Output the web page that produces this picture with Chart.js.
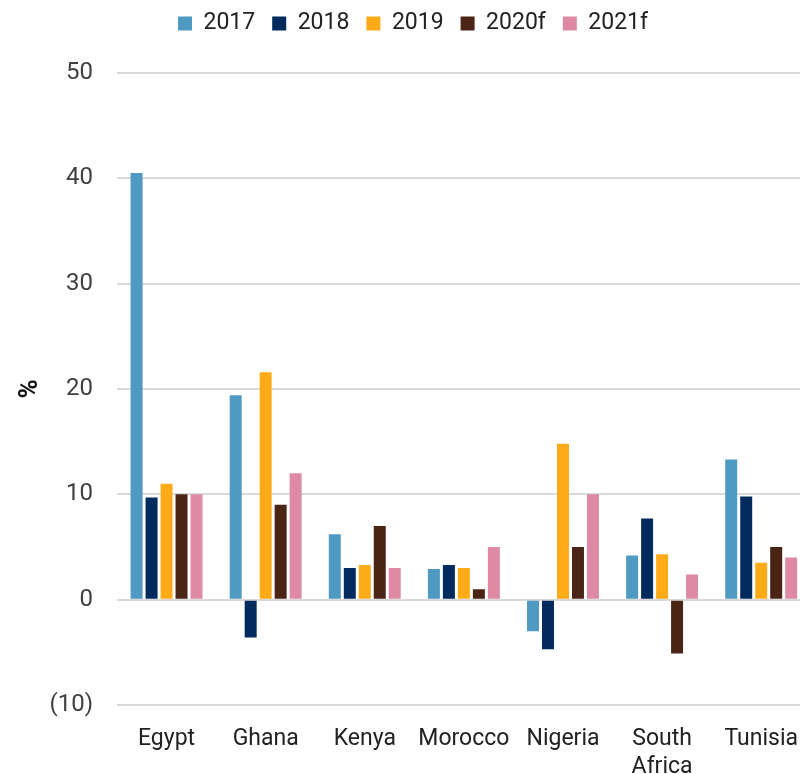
<!DOCTYPE html>
<html>
<head>
<meta charset="utf-8">
<script src="https://cdn.jsdelivr.net/npm/chart.js@4/dist/chart.umd.min.js"></script>
<style>
  html, body { margin: 0; padding: 0; background: #ffffff; overflow: hidden; width: 800px; height: 774px; }
  /* the plot runs slightly past the right edge of the page */
  #wrap { width: 818px; height: 774px; position: relative; }
</style>
</head>
<body>
<div id="wrap"><canvas id="chart"></canvas></div>
<script>
// Categories and series (%)
const countries = ['Egypt', 'Ghana', 'Kenya', 'Morocco', 'Nigeria', ['South', 'Africa'], 'Tunisia'];
const seriesNames = ['2017', '2018', '2019', '2020f', '2021f'];
const values2017  = [40.5, 19.4, 6.2, 2.9, -3.0, 4.2, 13.3];
const values2018  = [9.7, -3.6, 3.0, 3.3, -4.7, 7.7, 9.8];
const values2019  = [11.0, 21.6, 3.3, 3.0, 14.8, 4.3, 3.5];
const values2020f = [10.0, 9.0, 7.0, 1.0, 5.0, -5.1, 5.0];
const values2021f = [10.0, 12.0, 3.0, 5.0, 10.0, 2.4, 4.0];
const yTicks = [-10, 0, 10, 20, 30, 40, 50];

const colors = ['#4f9ac2', '#002b5c', '#ffab17', '#4a2515', '#de8aa5'];
const seriesValues = [values2017, values2018, values2019, values2020f, values2021f];

const font = "'Roboto', 'Liberation Sans', sans-serif";

// Fixed legend band height and a small offset of the legend row
const legendBand = {
  id: 'legendBand',
  beforeInit(chart) {
    const legend = chart.legend;
    const origFit = legend.fit;
    legend.fit = function () {
      origFit.call(this);
      this.height = 73;
    };
  },
  afterLayout(chart) {
    chart.legend.left += 4;
    chart.legend.right += 4;
    chart.legend.top -= 5;
  }
};

new Chart(document.getElementById('chart'), {
  type: 'bar',
  data: {
    labels: countries,
    datasets: seriesNames.map((name, i) => ({
      label: name,
      data: seriesValues[i],
      backgroundColor: colors[i],
      borderWidth: 0,
      barPercentage: 0.8,
      categoryPercentage: 0.756
    }))
  },
  options: {
    responsive: true,
    maintainAspectRatio: false,
    animation: false,
    layout: { padding: { top: 0, right: 0, bottom: 0, left: 0 } },
    plugins: {
      legend: {
        position: 'top',
        labels: {
          boxWidth: 14,
          boxHeight: 14,
          padding: 17,
          color: '#222222',
          font: { family: font, size: 23 }
        }
      },
      tooltip: { enabled: false }
    },
    scales: {
      x: {
        grid: { display: false, drawTicks: false },
        border: { display: false },
        afterFit: (scale) => { scale.height = 69; },
        ticks: {
          color: '#222222',
          padding: 20,
          maxRotation: 0,
          autoSkip: false,
          font: { family: font, size: 23, lineHeight: 1.22 }
        }
      },
      y: {
        min: -10,
        max: 50,
        afterBuildTicks: (axis) => { axis.ticks = yTicks.map(v => ({ value: v })); },
        afterFit: (scale) => { scale.width = 117; },
        grid: { color: '#d9d9d9', lineWidth: 2, drawTicks: false },
        border: { display: false },
        title: {
          display: true,
          text: '%',
          color: '#111111',
          padding: { top: 15, bottom: 0 },
          font: { family: font, size: 26, weight: 'bold' }
        },
        ticks: {
          color: '#404040',
          padding: 24,
          font: { family: font, size: 24 },
          callback: (v) => v < 0 ? '(' + Math.abs(v) + ')' : String(v)
        }
      }
    }
  },
  plugins: [legendBand]
});
</script>
</body>
</html>
